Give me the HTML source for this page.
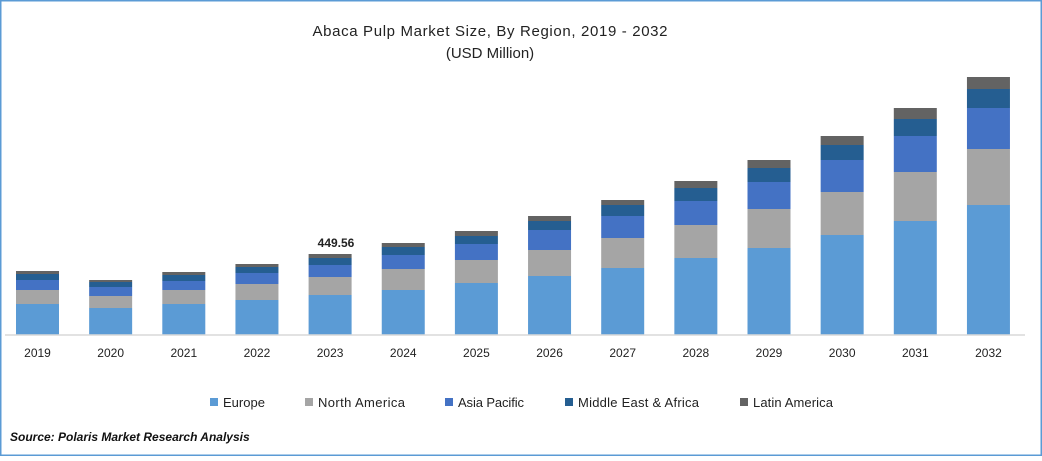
<!DOCTYPE html>
<html><head><style>
body{margin:0;background:#fff;}
svg text{font-family:"Liberation Sans",sans-serif;}
</style></head><body>
<svg width="1042" height="456" viewBox="0 0 1042 456" xmlns="http://www.w3.org/2000/svg">
<rect x="0.5" y="0.5" width="1041" height="455" fill="#fff" stroke="#5b9bd5" stroke-width="2"/>
<text x="490" y="36" font-size="15" text-anchor="middle" fill="#222" textLength="355">Abaca Pulp Market Size, By Region, 2019 - 2032</text>
<text x="490" y="58" font-size="15" text-anchor="middle" fill="#222">(USD Million)</text>
<g id="bars"></g>
<line x1="5" y1="335" x2="1025" y2="335" stroke="#d9d9d9" stroke-width="1.5"/>
<text x="336" y="247" font-size="12" font-weight="bold" text-anchor="middle" fill="#222">449.56</text>
<g id="lbl" font-size="12" fill="#222" text-anchor="middle"></g>
<g font-size="13" fill="#222">
<rect x="210" y="398" width="8" height="8" fill="#5b9bd5"/><text x="223" y="407" textLength="42">Europe</text>
<rect x="305" y="398" width="8" height="8" fill="#a5a5a5"/><text x="318" y="407" textLength="87">North America</text>
<rect x="445" y="398" width="8" height="8" fill="#4472c4"/><text x="458" y="407" textLength="66">Asia Pacific</text>
<rect x="565" y="398" width="8" height="8" fill="#255e91"/><text x="578" y="407" textLength="121">Middle East &amp; Africa</text>
<rect x="740" y="398" width="8" height="8" fill="#636363"/><text x="753" y="407" textLength="80">Latin America</text>
</g>
<text x="10" y="441" font-size="12" font-weight="bold" font-style="italic" fill="#111">Source: Polaris Market Research Analysis</text>
<script>
var d=[[271,274,280,290,304],[280,282,287,296,308],[272,275,281,290,304],[264,267,273,284,300],[254,258,265,277,295],[243,247,255,269,290],[231,236,244,260,283],[216,221,230,250,276],[200,205,216,238,268],[181,188,201,225,258],[160,168,182,209,248],[136,145,160,192,235],[108,119,136,172,221],[77,89,108,149,205]];
var c=["#636363","#255e91","#4472c4","#a5a5a5","#5b9bd5"];
var g=document.getElementById("bars"),l=document.getElementById("lbl"),ns="http://www.w3.org/2000/svg";
d.forEach(function(b,i){var x=16+73.15*i;for(var k=0;k<5;k++){var y2=k<4?b[k+1]:335;var r=document.createElementNS(ns,"rect");r.setAttribute("x",x);r.setAttribute("y",b[k]);r.setAttribute("width",43);r.setAttribute("height",y2-b[k]);r.setAttribute("fill",c[k]);g.appendChild(r);}
var t=document.createElementNS(ns,"text");t.setAttribute("x",x+21.5);t.setAttribute("y",357);t.textContent=2019+i;l.appendChild(t);});
</script>
</svg>
</body></html>
